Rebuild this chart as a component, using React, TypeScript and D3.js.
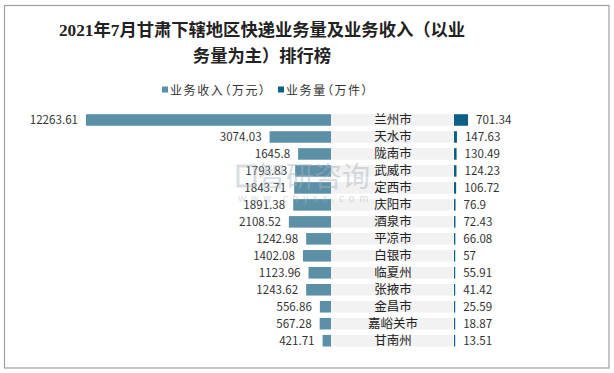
import * as d3 from "d3";

const cities = [
  "兰州市", "天水市", "陇南市", "武威市", "定西市", "庆阳市", "酒泉市",
  "平凉市", "白银市", "临夏州", "张掖市", "金昌市", "嘉峪关市", "甘南州",
];
const revenue = [
  12263.61, 3074.03, 1645.8, 1793.83, 1843.71, 1891.38, 2108.52,
  1242.98, 1402.08, 1123.96, 1243.62, 556.86, 567.28, 421.71,
];
const volume = [
  701.34, 147.63, 130.49, 124.23, 106.72, 76.9, 72.43,
  66.08, 57, 55.91, 41.42, 25.59, 18.87, 13.51,
];
const legendLabels = ["业务收入（万元）", "业务量（万件）"];

const W = 614;
const H = 373;
const REV_COLOR = "#5b90a7";
const VOL_COLOR = "#0a6185";
const CJK = "'Noto Sans CJK SC', 'Noto Sans', sans-serif";

export default function App() {
  const centerX = 331; // right edge of revenue bars / left edge of name band
  const bandEnd = 453;

  const xRev = d3.scaleLinear().domain([0, d3.max(revenue)!]).range([centerX, 86]);
  const xVol = d3.scaleLinear().domain([0, d3.max(volume)!]).range([bandEnd + 1, bandEnd + 15]);
  const y = d3
    .scaleBand()
    .domain(cities)
    .range([111.5, 349.2])
    .paddingInner(0.32)
    .paddingOuter(0.16);
  const bh = y.bandwidth();

  return (
    <svg
      width={W}
      height={H}
      style={{ position: "absolute", left: 0, top: 0, background: "#fff" }}
    >
      <rect x={4.5} y={5.5} width={604.5} height={362.5} fill="#fff" stroke="#a0a0a0" strokeWidth={1.2} />

      {/* title */}
      <g fontFamily="'Liberation Serif', 'Noto Sans CJK SC', serif" fontWeight="bold" fontSize={17.3} fill="#222" textAnchor="middle">
        <text x={262} y={36}>2021年7月甘肃下辖地区快递业务量及业务收入（以业</text>
        <text x={262} y={62}>务量为主）排行榜</text>
      </g>

      {/* legend */}
      <g fontFamily={CJK} fontSize={12} fill="#333" letterSpacing={1.6} style={{ fontFeatureSettings: '"palt"' }}>
        <rect x={162} y={86.5} width={6} height={6} fill={REV_COLOR} />
        <text x={170} y={94.5}>{legendLabels[0]}</text>
        <rect x={278} y={86.5} width={6} height={6} fill={VOL_COLOR} />
        <text x={286} y={94.5}>{legendLabels[1]}</text>
      </g>

      {cities.map((c, i) => {
        const yy = y(c)!;
        const cy = yy + bh / 2;
        return (
          <g key={c}>
            <rect x={centerX} y={yy} width={bandEnd - centerX} height={bh} fill="#f2f2f2" />
            <rect x={xRev(revenue[i])} y={yy} width={centerX - xRev(revenue[i])} height={bh} fill={REV_COLOR} />
            <rect
              x={xVol(0)}
              y={yy}
              width={Math.max(1.2, xVol(volume[i]) - xVol(0))}
              height={bh}
              fill={VOL_COLOR}
            />
            <text
              x={xRev(revenue[i]) - 8}
              y={cy}
              dy="0.36em"
              textAnchor="end"
              fontFamily={CJK}
              fontSize={11.6}
              fill="#333"
            >
              {revenue[i]}
            </text>
            <text
              x={(centerX + bandEnd) / 2 + 1}
              y={cy}
              dy="0.36em"
              textAnchor="middle"
              fontFamily={CJK}
              fontSize={12.5}
              fill="#222"
            >
              {c}
            </text>
            <text
              x={Math.max(xVol(volume[i]), xVol(0) + 1.2) + 8}
              y={cy}
              dy="0.36em"
              fontFamily={CJK}
              fontSize={11.6}
              fill="#333"
            >
              {volume[i]}
            </text>
          </g>
        );
      })}

      {/* watermark */}
      <g opacity={0.45} fill="#a9b4c0" fontFamily={CJK}>
        <rect x={238} y={166} width={17} height={20} fill="none" stroke="#a9b4c0" strokeWidth={3} />
        <text x={258} y={187} fontSize={28}>智研咨询</text>
        <text x={238} y={202} fontSize={10} letterSpacing={4.6}>www.chyxx.com</text>
      </g>
    </svg>
  );
}
